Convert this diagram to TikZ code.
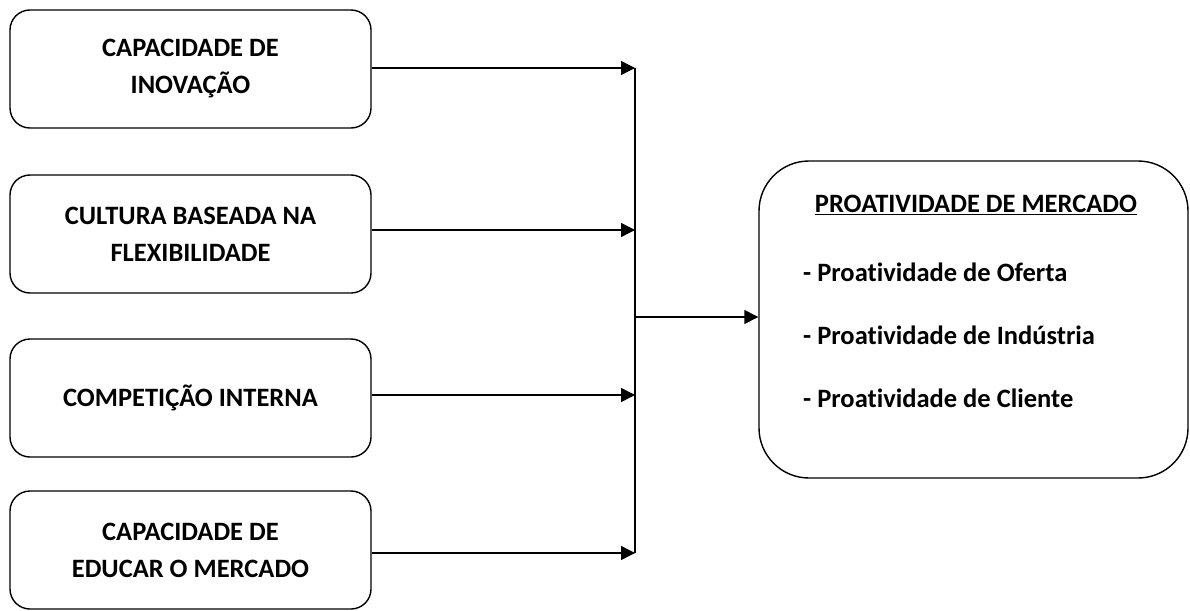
\documentclass[tikz,border=0pt]{standalone}
\usepackage{fontspec}
\setmainfont{Carlito}[RawFeature=-liga]
\usetikzlibrary{arrows.meta}
\tikzset{
  factor/.style={draw, line width=1.4pt, rounded corners=20pt, minimum width=361pt,
    minimum height=118pt, align=center, font=\bfseries\fontsize{26.5}{37}\selectfont, inner sep=0pt},
  outcome/.style={draw, line width=1.4pt, rounded corners=50pt, minimum width=429pt,
    minimum height=317pt, inner sep=0pt},
  link/.style={line width=1.4pt},
  flow/.style={line width=1.4pt, -{Triangle[length=14pt,width=14pt]}},
  label/.style={font=\bfseries\fontsize{26.5}{30}\selectfont, anchor=west, inner sep=0pt}
}
\begin{document}
\begin{tikzpicture}[x=1pt,y=-1pt]
\useasboundingbox (0,0) rectangle (1190,610);
% determinant boxes
\node[factor] (f1) at (190.5,69) {CAPACIDADE DE\\INOVAÇÃO};
\node[factor] (f2) at (190.5,234) {CULTURA BASEADA NA\\FLEXIBILIDADE};
\node[factor] (f3) at (190.5,398) {COMPETIÇÃO INTERNA};
\node[factor] (f4) at (190.5,550) {CAPACIDADE DE\\EDUCAR O MERCADO};
% outcome box
\node[outcome] (out) at (973.5,319.5) {};
\node[font=\bfseries\fontsize{26.5}{30}\selectfont, inner sep=0pt] (title) at (976,205) {\underline{PROATIVIDADE DE MERCADO}};
\node[label] (p1) at (803,272) {- Proatividade de Oferta};
\node[label] (p2) at (803,335) {- Proatividade de Indústria};
\node[label] (p3) at (803,398) {- Proatividade de Cliente};
% junction points on the collecting line
\coordinate (j1) at (635,68);
\coordinate (j2) at (635,230);
\coordinate (j3) at (635,395);
\coordinate (j4) at (635,553);
\coordinate (jm) at (635,317);
\draw[flow] (f1.east |- j1) -- (j1);
\draw[flow] (f2.east |- j2) -- (j2);
\draw[flow] (f3.east |- j3) -- (j3);
\draw[flow] (f4.east |- j4) -- (j4);
\draw[link] (j1) -- (j4);
\draw[flow] (jm) -- (out.west |- jm);
\end{tikzpicture}
\end{document}
